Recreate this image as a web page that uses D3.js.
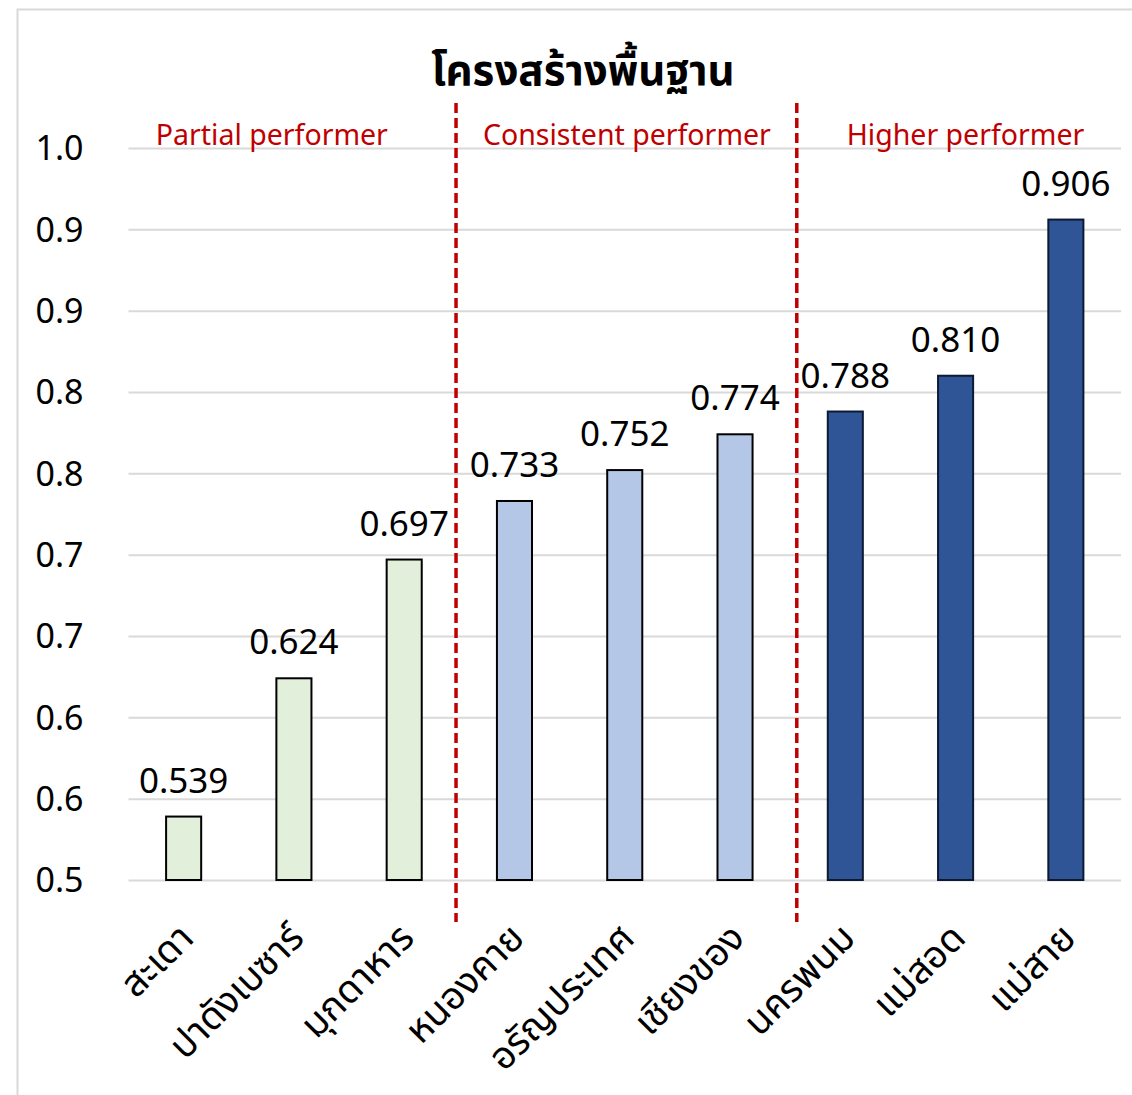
<!DOCTYPE html>
<html>
<head>
<meta charset="utf-8">
<script src="https://cdn.jsdelivr.net/npm/d3@7"></script>
<style>
  body { margin: 0; background: #fff; }
  text { font-family: "Noto Sans", "Noto Sans Thai", "Open Sans", sans-serif; }
</style>
</head>
<body>
<div id="chart"></div>
<script>
// data
const categories = ["สะเดา", "ปาดังเบซาร์", "มุกดาหาร", "หนองคาย", "อรัญประเทศ", "เชียงของ", "นครพนม", "แม่สอด", "แม่สาย"]
const values = [0.539, 0.624, 0.697, 0.733, 0.752, 0.774, 0.788, 0.810, 0.906]
const groupOf = [0, 0, 0, 1, 1, 1, 2, 2, 2]
const groupNames = ["Partial performer", "Consistent performer", "Higher performer"]
const groupLabelAt = [0.8, 4.02, 7.09]      // in category index units
const dividerAt = [2.47, 5.56]              // in category index units
const tickValues = [0.5, 0.55, 0.6, 0.65, 0.7, 0.75, 0.8, 0.85, 0.9, 0.95]
const tickLabels = ["0.5", "0.6", "0.6", "0.7", "0.7", "0.8", "0.8", "0.9", "0.9", "1.0"]
const title = "โครงสร้างพื้นฐาน"

const groupFill = ["#e2efda", "#b4c7e7", "#2f5597"]
const groupStroke = ["#000", "#000", "#0d1a33"]

const width = 1132, height = 1095

const svg = d3.select("#chart")
    .append("svg")
    .attr("width", width)
    .attr("height", height)

// outer chart border
svg.append("rect")
    .attr("x", 17.5).attr("y", 9.5)
    .attr("width", width).attr("height", height)
    .attr("fill", "#fff")
    .attr("stroke", "#d9d9d9")
    .attr("stroke-width", 2)

const x = d3.scaleBand()
    .domain(categories)
    .range([128.5, 1121])
    .paddingInner(0.682)
    .paddingOuter(0.341)

const y = d3.scaleLinear()
    .domain([0.5, 0.95])
    .range([880, 148])

// index -> pixel (centre of category)
const xi = d3.scaleLinear()
    .domain([0, 1])
    .range([x(categories[0]) + x.bandwidth() / 2, x(categories[1]) + x.bandwidth() / 2])

// gridlines + y labels
const yAxis = svg.append("g")
    .attr("transform", "translate(128.5,0)")
    .call(d3.axisLeft(y)
        .tickValues(tickValues)
        .tickSize(-(1121 - 128.5))
        .tickPadding(45)
        .tickFormat((d, i) => tickLabels[i]))
yAxis.select(".domain").remove()
yAxis.selectAll(".tick line").attr("stroke", "#d9d9d9").attr("stroke-width", 2)
yAxis.selectAll(".tick text")
    .attr("fill", "#000")
    .style("font-size", "34px")
    .attr("dy", "0.35em")

// bars
svg.append("g")
    .selectAll("rect")
    .data(values)
    .join("rect")
    .attr("x", (d, i) => x(categories[i]))
    .attr("y", d => y(d))
    .attr("width", x.bandwidth())
    .attr("height", d => y(0.5) - y(d))
    .attr("fill", (d, i) => groupFill[groupOf[i]])
    .attr("stroke", (d, i) => groupStroke[groupOf[i]])
    .attr("stroke-width", 2)

// value labels
svg.append("g")
    .selectAll("text")
    .data(values)
    .join("text")
    .attr("x", (d, i) => x(categories[i]) + x.bandwidth() / 2)
    .attr("y", d => y(d) - 24)
    .attr("text-anchor", "middle")
    .style("font-size", "35px")
    .text(d => d3.format(".3f")(d))

// category labels, rotated
svg.append("g")
    .selectAll("text")
    .data(categories)
    .join("text")
    .attr("transform", (d, i) => `translate(${x(d) + x.bandwidth() / 2 + 12},${940}) rotate(-45)`)
    .attr("text-anchor", "end")
    .style("font-size", "38px")
    .text(d => d)

// dividers
svg.append("g")
    .selectAll("line")
    .data(dividerAt)
    .join("line")
    .attr("x1", d => xi(d)).attr("x2", d => xi(d))
    .attr("y1", 103).attr("y2", 922)
    .attr("stroke", "#c00000")
    .attr("stroke-width", 3.5)
    .attr("stroke-dasharray", "10,5")

// group labels
svg.append("g")
    .selectAll("text")
    .data(groupNames)
    .join("text")
    .attr("x", (d, i) => xi(groupLabelAt[i]))
    .attr("y", 145)
    .attr("text-anchor", "middle")
    .attr("fill", "#c00000")
    .style("font-size", "28.5px")
    .text(d => d)

// title
svg.append("text")
    .attr("x", 583)
    .attr("y", 85)
    .attr("text-anchor", "middle")
    .style("font-size", "42px")
    .style("font-weight", "bold")
    .text(title)
</script>
</body>
</html>
